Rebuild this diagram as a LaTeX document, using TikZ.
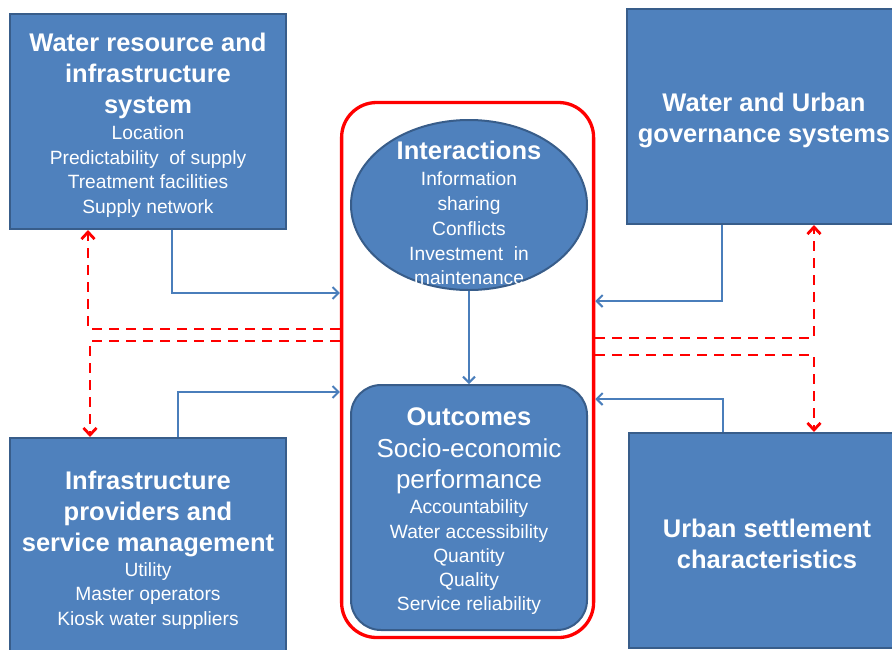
\documentclass[tikz,border=0pt]{standalone}
\usepackage{fontspec}
\setmainfont{Liberation Sans}
\usetikzlibrary{arrows.meta,shapes.geometric}
\definecolor{boxfill}{HTML}{4F81BD}
\definecolor{boxline}{HTML}{385D8A}
\definecolor{connblue}{HTML}{4A7EBB}
\begin{document}
\begin{tikzpicture}[x=1pt,y=-1pt,
 box/.style={rectangle,fill=boxfill,draw=boxline,line width=2pt,minimum width=276pt,minimum height=215pt,inner sep=0pt},
 ttl/.style={text=white,font=\fontsize{25.5}{31}\selectfont\bfseries,align=center,inner sep=0pt},
 itm/.style={text=white,font=\fontsize{19.2}{24.5}\selectfont,align=center,inner sep=0pt},
 conn/.style={draw=connblue,line width=2pt,-{Straight Barb[length=6pt,width=12pt]}},
 rdash/.style={draw=red,line width=2.8pt,dash pattern=on 10pt off 7pt,-{Straight Barb[length=7pt,width=13pt]}}]
\useasboundingbox (0,0) rectangle (892,649);
\clip (0,0) rectangle (892,649);
% boxes
\node[box] (tl) at (148,121.5) {};
\node[box,minimum width=274pt] (tr) at (764,116.5) {};
\node[box] (bl) at (148,545.5) {};
\node[box] (br) at (767,540.5) {};
\node[draw=red,line width=3.3pt,rounded corners=35pt,minimum width=252pt,minimum height=535pt,inner sep=0pt] (frame) at (467.6,370) {};
\node[ellipse,fill=boxfill,draw=boxline,line width=2pt,minimum width=236pt,minimum height=170pt,inner sep=0pt] (inter) at (469,205) {};
\node[rectangle,rounded corners=30pt,fill=boxfill,draw=boxline,line width=2pt,minimum width=236pt,minimum height=245pt,inner sep=0pt] (outc) at (469,507.5) {};
% texts
\node[ttl] (tlT) at (148,76) {Water resource and\\infrastructure\\system};
\node[itm] (tlI) at (148,171.5) {Location\\Predictability\ \ of supply\\Treatment facilities\\Supply network};
\node[ttl] (trT) at (764,120.5) {Water and Urban\\governance systems};
\node[ttl] (brT) at (767,543.5) {Urban settlement\\characteristics};
\node[ttl] (blT) at (148,513.5) {Infrastructure\\providers and\\service management};
\node[itm] (blI) at (148,596) {Utility\\Master operators\\Kiosk water suppliers};
\node[ttl] (inT) at (469,150) {Interactions};
\node[itm,font=\fontsize{19.2}{24.75}\selectfont] (inI) at (469,228.5) {Information\\sharing\\Conflicts\\Investment\ \ in\\maintenance};
\node[ttl] (ocT) at (469,417) {Outcomes};
\node[text=white,font=\fontsize{26}{31}\selectfont,align=center,inner sep=0pt] (ocS) at (469,466.5) {Socio-economic\\performance};
\node[itm,font=\fontsize{19.2}{24.25}\selectfont] (ocI) at (469,557.5) {Accountability\\Water accessibility\\Quantity\\Quality\\Service reliability};
% helper coordinates
\coordinate (y1) at (0,293);
\coordinate (y2) at (0,392);
\coordinate (y3) at (0,301);
\coordinate (y4) at (0,399);
\coordinate (d1) at (0,329);
\coordinate (d2) at (0,341);
\coordinate (d3) at (0,338);
\coordinate (d4) at (0,355);
% blue connectors
\draw[conn] (inter.south) -- (outc.north);
\draw[conn] ([xshift=24pt]tl.south) |- (frame.west |- y1);
\draw[conn] ([xshift=30pt]bl.north) |- (frame.west |- y2);
\draw[conn] ([xshift=-42pt]tr.south) |- (frame.east |- y3);
\draw[conn] ([xshift=-44pt]br.north) |- (frame.east |- y4);
% red dashed connectors
\draw[rdash] (frame.west |- d1) -| ([xshift=-60pt]tl.south);
\draw[rdash] (frame.west |- d2) -| ([xshift=-58pt]bl.north);
\draw[rdash] (frame.east |- d3) -| ([xshift=50pt]tr.south);
\draw[rdash] (frame.east |- d4) -| ([xshift=47pt]br.north);
\end{tikzpicture}
\end{document}
